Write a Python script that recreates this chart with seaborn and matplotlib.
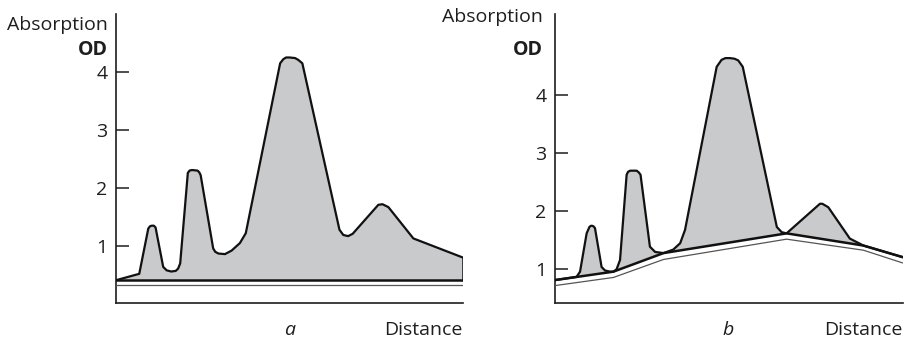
import numpy as np
import matplotlib
matplotlib.use("Agg")
import matplotlib.pyplot as plt
import seaborn as sns

# ---- data -------------------------------------------------------------
# Panel a: densitometer trace over a flat baseline
dist_a = [0, 6.7, 9.3, 9.8, 10.3, 10.9, 11.4, 13.6, 14.6, 15.9, 17.2, 17.9, 18.5,
          20.7, 21.2, 21.9, 23.5, 24.0, 24.4, 28.0, 28.6, 29.5, 31.4, 33.3,
          35.7, 37.4, 47.3, 48.2, 49.0, 50.1, 51.6, 52.5, 53.7, 64.4, 65.5,
          66.9, 68.2, 75.6, 76.8, 78.5, 85.7, 100]
od_a = [0.41, 0.52, 1.30, 1.34, 1.35, 1.35, 1.32, 0.64, 0.58, 0.56, 0.57, 0.61,
        0.70, 2.26, 2.30, 2.31, 2.30, 2.27, 2.22, 0.96, 0.90, 0.87, 0.86, 0.92,
        1.05, 1.22, 4.15, 4.22, 4.25, 4.25, 4.24, 4.21, 4.15, 1.28, 1.19,
        1.17, 1.21, 1.71, 1.72, 1.67, 1.13, 0.80]
baseline_a = 0.41
lower_a = 0.32

# Panel b: trace over a sloping baseline
dist_b = [0, 6.2, 7.2, 9.1, 9.9, 10.3, 10.7, 11.1, 11.5, 13.4, 14.4, 15.9,
          16.8, 17.7, 18.7, 20.6, 21.0, 21.6, 23.5, 24.1, 24.6, 27.3, 28.8,
          31.2, 34.0, 36.0, 37.4, 46.5, 47.9, 49.0, 50.3, 51.6, 52.7, 54.0,
          63.8, 65.2, 66.6, 76.2, 76.9, 78.6, 84.8, 88.7, 100]
od_b = [0.805, 0.86, 0.95, 1.61, 1.72, 1.74, 1.74, 1.73, 1.70, 1.03, 0.97,
        0.95, 0.95, 0.99, 1.15, 2.62, 2.67, 2.69, 2.69, 2.66, 2.62, 1.38,
        1.29, 1.27, 1.33, 1.44, 1.67, 4.48, 4.60, 4.63, 4.63, 4.62, 4.59,
        4.48, 1.72, 1.63, 1.61, 2.12, 2.12, 2.06, 1.52, 1.40, 1.20]
base_x_b = [0, 16.8, 31.2, 66.6, 88.7, 100]
base_y_b = [0.805, 0.95, 1.27, 1.61, 1.40, 1.20]
lower_y_b = [0.71, 0.85, 1.16, 1.51, 1.32, 1.10]

tick_vals = [1, 2, 3, 4]
tick_labels = ["1", "2", "3", "4"]

# ---- style ------------------------------------------------------------
sns.set_theme(style="white")
plt.rcParams["font.family"] = ["Open Sans", "DejaVu Sans"]
FS = 14
FILL = "#c9cacc"
INK = "#1e1e1e"

fig = plt.figure(figsize=(9.09, 3.40), dpi=100)
ax_a = fig.add_axes([116 / 909, 37 / 340, 347 / 909, 289 / 340])
ax_b = fig.add_axes([555 / 909, 37 / 340, 347.7 / 909, 289 / 340])


def style_axes(ax, ylim):
    ax.set_xlim(0, 100)
    ax.set_ylim(*ylim)
    ax.set_xticks([])
    ax.set_yticks(tick_vals)
    ax.set_yticklabels(tick_labels, fontsize=FS, color=INK)
    ax.tick_params(axis="y", direction="in", length=9, width=1.1,
                   color=INK, pad=6, left=True)
    for side in ("top", "right"):
        ax.spines[side].set_visible(False)
    for side in ("left", "bottom"):
        ax.spines[side].set_color(INK)
        ax.spines[side].set_linewidth(1.2)
    ax.set_xlabel("")
    ax.set_ylabel("")


line_kw = dict(sort=False, estimator=None, zorder=3)

# ---- panel a ------------------------------------------------------------
ax_a.fill(list(dist_a) + [dist_a[-1], dist_a[0]],
          list(od_a) + [baseline_a, baseline_a],
          color=FILL, lw=0, zorder=1)
sns.lineplot(x=dist_a, y=od_a, ax=ax_a, color="#111111", lw=1.6, **line_kw)
sns.lineplot(x=[dist_a[0], dist_a[-1]], y=[baseline_a, baseline_a], ax=ax_a,
             color="#111111", lw=1.8, **line_kw)
sns.lineplot(x=[dist_a[-1], dist_a[-1]], y=[od_a[-1], baseline_a], ax=ax_a,
             color="#111111", lw=1.8, **line_kw)
sns.lineplot(x=[dist_a[0], dist_a[-1]], y=[lower_a, lower_a], ax=ax_a,
             color="#555555", lw=0.9, **line_kw)
style_axes(ax_a, (0.017, 5.0))

# ---- panel b ------------------------------------------------------------
ax_b.fill(list(dist_b) + base_x_b[::-1],
          list(od_b) + base_y_b[::-1],
          color=FILL, lw=0, zorder=1)
sns.lineplot(x=dist_b, y=od_b, ax=ax_b, color="#111111", lw=1.6, **line_kw)
sns.lineplot(x=base_x_b, y=base_y_b, ax=ax_b, color="#111111", lw=1.8,
             **line_kw)
sns.lineplot(x=base_x_b, y=lower_y_b, ax=ax_b, color="#555555", lw=0.9,
             **line_kw)
style_axes(ax_b, (0.41, 5.39))

# ---- labels ---------------------------------------------------------------
txt = dict(fontsize=FS, color=INK, va="center")
fig.text(108 / 909, 1 - 25 / 340, "Absorption", ha="right", **txt)
fig.text(108 / 909, 1 - 50 / 340, "OD", ha="right", fontweight="bold", **txt)
fig.text(543 / 909, 1 - 17 / 340, "Absorption", ha="right", **txt)
fig.text(543 / 909, 1 - 50 / 340, "OD", ha="right", fontweight="bold", **txt)

fig.text(290 / 909, 1 - 330 / 340, "a", ha="center", style="italic", **txt)
fig.text(462 / 909, 1 - 330 / 340, "Distance", ha="right", **txt)
fig.text(728 / 909, 1 - 330 / 340, "b", ha="center", style="italic", **txt)
fig.text(902 / 909, 1 - 330 / 340, "Distance", ha="right", **txt)

fig.savefig("out.png", dpi=100, facecolor="white")
